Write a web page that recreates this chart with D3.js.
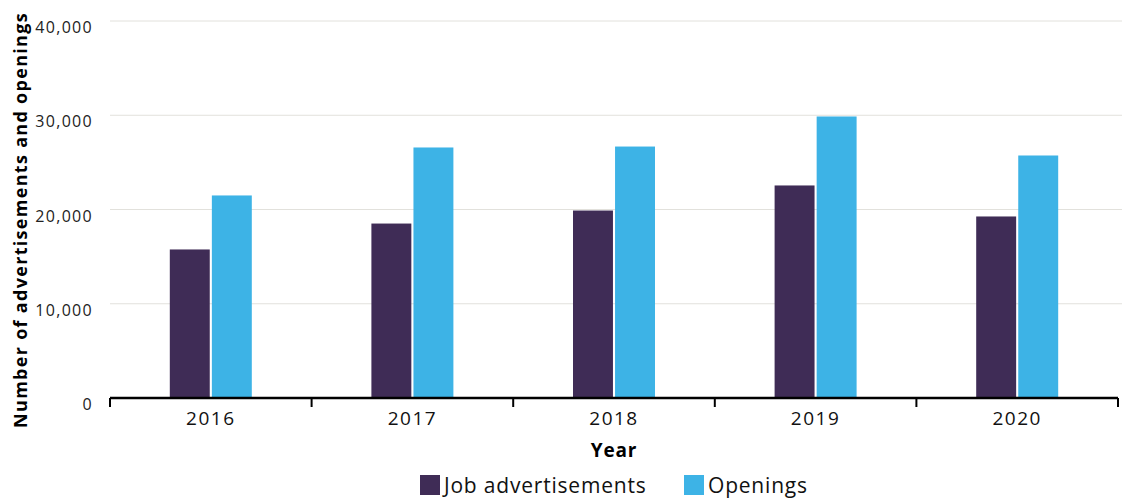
<!DOCTYPE html>
<html lang="en">
<head>
<meta charset="UTF-8"/>
<title>Job advertisements and openings</title>
<script src="https://d3js.org/d3.v7.min.js"></script>
<style>
    body { margin: 0; background: #fff; }
    svg text { font-family: "Open Sans", sans-serif; }
</style>
</head>
<body>
<div id="chart"></div>
<script>
    // Data
    const years = ["2016", "2017", "2018", "2019", "2020"];
    const jobAds = [15760, 18510, 19890, 22550, 19260];
    const openings = [21490, 26580, 26680, 29870, 25730];
    const seriesNames = ["Job advertisements", "Openings"];
    const yTicks = [0, 10000, 20000, 30000, 40000];

    const colors = ["#3f2c56", "#3db3e6"];

    const w = 1126, h = 500;
    const margin = { top: 21, right: 8, bottom: 102, left: 110 };
    const innerW = w - margin.left - margin.right;
    const innerH = h - margin.top - margin.bottom;

    const svg = d3.select("#chart").append("svg")
        .attr("width", w)
        .attr("height", h);

    const g = svg.append("g")
        .attr("transform", `translate(${margin.left},${margin.top})`);

    const x = d3.scaleBand().domain(years).range([0, innerW]);
    const x1 = d3.scaleBand().domain(seriesNames)
        .range([x.bandwidth() / 2 - 41, x.bandwidth() / 2 + 41])
        .paddingInner(0.05);
    const y = d3.scaleLinear().domain([0, 40000]).range([innerH, 0]);

    // gridlines
    g.selectAll(".grid")
        .data(yTicks.slice(1))
        .enter().append("line")
        .attr("x1", 0).attr("x2", innerW + 4)
        .attr("y1", d => y(d)).attr("y2", d => y(d))
        .attr("stroke", "#e2e1dc")
        .attr("stroke-width", 1);

    // y tick labels
    g.selectAll(".ylab")
        .data(yTicks)
        .enter().append("text")
        .attr("x", -17)
        .attr("y", d => y(d) + 12)
        .attr("text-anchor", "end")
        .attr("font-size", "16px")
        .attr("letter-spacing", "1.3px")
        .attr("fill", "#222")
        .text(d => d3.format(",")(d));

    // bars
    const rows = years.map((yr, i) => ({ year: yr, values: [jobAds[i], openings[i]] }));
    const groups = g.selectAll(".yr")
        .data(rows)
        .enter().append("g")
        .attr("transform", d => `translate(${x(d.year)},0)`);

    groups.selectAll("rect")
        .data(d => d.values.map((v, j) => ({ key: seriesNames[j], value: v, j: j })))
        .enter().append("rect")
        .attr("x", d => x1(d.key))
        .attr("width", x1.bandwidth())
        .attr("y", d => y(d.value))
        .attr("height", d => innerH - y(d.value))
        .attr("fill", d => colors[d.j]);

    // x axis
    const xAxis = g.append("g")
        .attr("transform", `translate(0,${innerH})`);
    xAxis.append("line")
        .attr("x1", 0).attr("x2", innerW)
        .attr("stroke", "#000").attr("stroke-width", 2.5);
    xAxis.selectAll(".tick")
        .data(years.map(d => x(d)).concat([innerW]))
        .enter().append("line")
        .attr("x1", d => d).attr("x2", d => d)
        .attr("y1", 0).attr("y2", 9)
        .attr("stroke", "#000").attr("stroke-width", 2);
    xAxis.selectAll(".xlab")
        .data(years)
        .enter().append("text")
        .attr("x", d => x(d) + x.bandwidth() / 2)
        .attr("y", 27)
        .attr("text-anchor", "middle")
        .attr("font-size", "19px")
        .attr("letter-spacing", "1.5px")
        .attr("fill", "#111")
        .text(d => d);

    // axis titles
    svg.append("text")
        .attr("x", margin.left + innerW / 2)
        .attr("y", 457)
        .attr("text-anchor", "middle")
        .attr("font-size", "19px")
        .attr("font-weight", "bold")
        .attr("letter-spacing", "0.8px")
        .text("Year");

    svg.append("text")
        .attr("transform", "rotate(-90)")
        .attr("x", -220)
        .attr("y", 27)
        .attr("text-anchor", "middle")
        .attr("font-size", "18px")
        .attr("font-weight", "bold")
        .attr("letter-spacing", "1.3px")
        .text("Number of advertisements and openings");

    // legend
    const legendX = [420, 684];
    const legend = svg.selectAll(".legend")
        .data(seriesNames)
        .enter().append("g")
        .attr("transform", (d, i) => `translate(${legendX[i]},475)`);
    legend.append("rect")
        .attr("width", 20).attr("height", 20)
        .attr("fill", (d, i) => colors[i]);
    legend.append("text")
        .attr("x", 24).attr("y", 18)
        .attr("font-size", "21px")
        .attr("letter-spacing", "0.8px")
        .attr("fill", "#111")
        .text(d => d);
</script>
</body>
</html>
